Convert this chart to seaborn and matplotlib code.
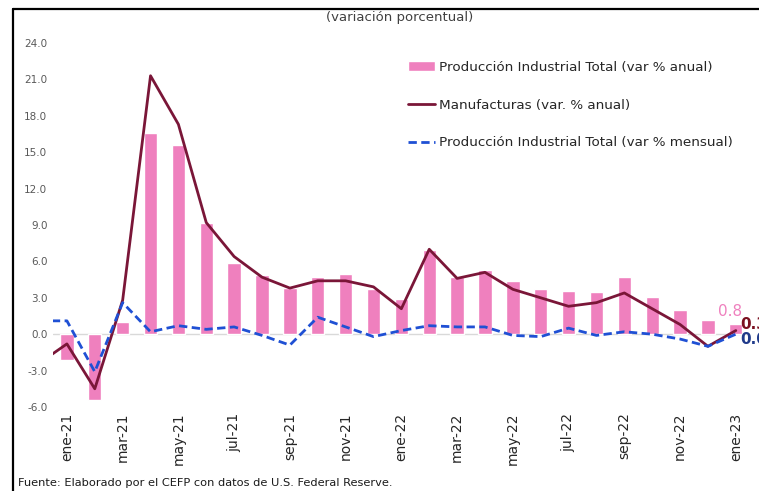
import numpy as np
import pandas as pd
import matplotlib.pyplot as plt
from matplotlib.lines import Line2D
import seaborn as sns

# ─────────────────────────────────────────
# Data (var. %), ene-21 .. ene-23
# ─────────────────────────────────────────
meses = ['ene-21', 'feb-21', 'mar-21', 'abr-21', 'may-21', 'jun-21', 'jul-21',
         'ago-21', 'sep-21', 'oct-21', 'nov-21', 'dic-21', 'ene-22', 'feb-22',
         'mar-22', 'abr-22', 'may-22', 'jun-22', 'jul-22', 'ago-22', 'sep-22',
         'oct-22', 'nov-22', 'dic-22', 'ene-23']
prod_anual = [-2.1, -5.4, 1.0, 16.6, 15.6, 9.2, 5.9, 4.9, 3.8, 4.7, 5.0, 3.7,
              2.9, 6.9, 4.7, 5.3, 4.4, 3.7, 3.55, 3.5, 4.7, 3.1, 2.0, 1.15, 0.8]

# line series start one month earlier (dic-20), partly hidden at the left edge
meses_lineas = ['dic-20'] + meses
manufacturas = [-2.4, -0.8, -4.5, 2.8, 21.3, 17.3, 9.2, 6.4, 4.7, 3.8, 4.4, 4.4,
                3.9, 2.1, 7.0, 4.6, 5.1, 3.7, 3.0, 2.3, 2.6, 3.4, 2.1, 0.8, -1.0, 0.3]
prod_mensual = [1.1, 1.1, -3.1, 2.6, 0.2, 0.7, 0.4, 0.6, -0.1, -0.9, 1.4, 0.6,
                -0.2, 0.3, 0.7, 0.6, 0.6, -0.1, -0.2, 0.5, -0.1, 0.2, 0.0, -0.4, -1.0, 0.0]

y_ticks = np.arange(-6, 25, 3)

col_bar = '#EF80BE'
col_man = '#7A1638'
col_men = '#1F50D4'

lbl_bar = 'Producción Industrial Total (var % anual)'
lbl_man = 'Manufacturas (var. % anual)'
lbl_men = 'Producción Industrial Total (var % mensual)'

df_bar = pd.DataFrame({'pos': np.arange(len(meses)), 'valor': prod_anual})
df_lin = pd.DataFrame({'pos': np.arange(-1, len(meses)),
                       'manuf': manufacturas, 'mensual': prod_mensual})

sns.set_style('white')
plt.rcParams['font.family'] = ['DejaVu Sans']

fig = plt.figure(figsize=(7.59, 4.91), dpi=100)
ax = fig.add_axes([0.0698, 0.1711, 0.918, 0.7413])

sns.barplot(data=df_bar, x='pos', y='valor', native_scale=True, color=col_bar,
            saturation=1, width=0.48, ax=ax, zorder=2, label=lbl_bar)
sns.lineplot(data=df_lin, x='pos', y='manuf', color=col_man, linewidth=2.0,
             sort=False, ax=ax, zorder=3, label=lbl_man)
sns.lineplot(data=df_lin, x='pos', y='mensual', color=col_men, linewidth=2.0,
             sort=False, ax=ax, zorder=4, label=lbl_men)
ax.lines[-1].set_linestyle((0, (3, 1.6)))

ax.axhline(0, color='#D9D9D9', linewidth=1, zorder=1)

ax.set_xlim(-0.5, len(meses) - 0.5)
ax.set_ylim(-6, 24)
ax.set_yticks(y_ticks)
ax.set_yticklabels([f'{v:.1f}' for v in y_ticks], fontsize=7.5, color='#595959')
ax.set_xticks(np.arange(0, len(meses), 2))
ax.set_xticklabels(meses[::2], rotation=90, fontsize=10, color='#262626')
ax.tick_params(axis='both', length=0, pad=4)
ax.set_xlabel('')
ax.set_ylabel('')
for s in ax.spines.values():
    s.set_visible(False)

# end labels (the reference crops them at the right edge)
last = len(meses) - 1
ax.text(last - 0.2, prod_anual[-1] + 0.45, f'{prod_anual[-1]:.1f}', color=col_bar,
        fontsize=11, ha='center', va='bottom')
ax.text(last + 0.15, manufacturas[-1] + 0.5, f'{manufacturas[-1]:.1f}', color='#7A1020',
        fontsize=11, fontweight='bold', ha='left', va='center', clip_on=False)
ax.text(last + 0.15, prod_mensual[-1] - 0.4, f'{prod_mensual[-1]:.1f}', color='#1F3A8A',
        fontsize=11, fontweight='bold', ha='left', va='center', clip_on=False)

# legend: bars first, then the two lines
handles, labels = ax.get_legend_handles_labels()
orden = [labels.index(l) for l in (lbl_bar, lbl_man, lbl_men)]
ax.legend([handles[i] for i in orden], [labels[i] for i in orden],
          loc='upper right', bbox_to_anchor=(0.993, 0.985), frameon=False,
          fontsize=9.7, labelspacing=1.85, handlelength=2.0,
          handletextpad=0.3, labelcolor='#262626')

fig.text(0.527, 0.965, '(variación porcentual)', ha='center', va='center',
         fontsize=9.5, color='#404040')
fig.text(0.024, 0.016, 'Fuente: Elaborado por el CEFP con datos de U.S. Federal Reserve.',
         ha='left', va='center', fontsize=8.2, color='#1a1a1a')

# outer frame (left and top edges)
fig.add_artist(Line2D([12.5 / 759, 12.5 / 759], [0, 1 - 8.5 / 491],
                      color='black', linewidth=1.6))
fig.add_artist(Line2D([12.5 / 759, 1], [1 - 8.5 / 491, 1 - 8.5 / 491],
                      color='black', linewidth=1.6))

fig.savefig('out.png', dpi=100)
